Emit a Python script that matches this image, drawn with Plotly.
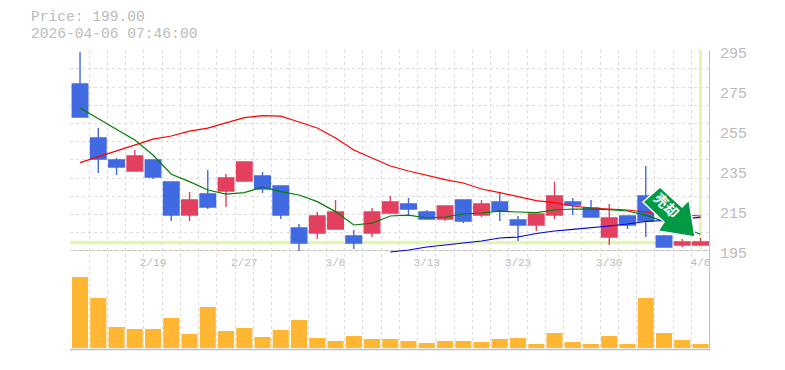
import plotly.graph_objects as go

dates = ["2/13","2/16","2/17","2/18","2/19","2/20","2/24","2/25","2/26","2/27",
         "3/2","3/3","3/4","3/5","3/6","3/9","3/10","3/11","3/12","3/13",
         "3/16","3/17","3/18","3/19","3/23","3/24","3/25","3/26","3/27","3/30",
         "3/31","4/1","4/2","4/3","4/6"]
opens = [279.5,252.5,241.5,236,241.5,230.5,214,224.5,226,231,233.5,228.5,207.5,205,207,
         203.5,205,215,219.5,215.5,212,221.5,214,220.5,211.5,209,214,220.5,217.5,203,
         213.5,223.5,203.5,199,199]
closes = [263,242,238,243.5,233,214,221.5,218,232.5,240.5,227,214,200,213.5,215.5,
          200,215.5,220.5,217,212,218.5,211,219.5,216,209,214.5,223.5,219,213,212.5,
          209,211,198,200.5,200.5]
highs = [295.5,257.5,242.5,246.5,241.5,230.5,225.5,236.5,234.5,240.5,235.5,228.5,209.5,215.5,221.5,
         206.5,217.5,223.5,222.5,216.5,218.5,221.5,221.5,225.5,213.5,214.5,230.5,222.5,221.5,219.5,
         213.5,238.5,204,202,202.5]
lows = [263,235,234,236,232,211,211,217,218,231,225,212,196,202,207,
        197,203,215,214,212,211,210,213,211,201,206,212,214,213,199,
        207,203,198,198,199]
ma_red = [240.2,243.2,246.2,248.9,251.9,253.5,255.9,257.4,259.9,262.7,263.7,263.4,260.5,257.5,252.5,
          246.5,242.5,238.5,236,233.7,231.7,230,227,225.2,223.2,221.2,220.2,218.5,217.5,217,
          216.5,215.5,214.5,214,213.5]
ma_green = [267.5,262.2,256.5,251.5,244,234.4,230.7,226.5,224.4,225.2,228,225.7,224,220.7,215.7,
            209,209.9,213.5,213.9,212.5,213,214.5,215,215.9,215.5,215.2,216.5,217,216.9,216.7,
            216,213.9,210.7,208,204.4]
ma_blue = [None]*17 + [195.5,196.5,198,199,200,201,202.5,203,204.75,206,206.85,207.5,208.5,209.5,
                       210.75,211.25,212,212.85]
volumes = [71,50,21,19,19,30,14,41,17,20,11,18,28,10,7,12,9,9,
           7,5,7,7,6,9,10,4,15,6,4,12,4,50,15,8,4]
price_ticks = [195,215,235,255,275,295]
date_tick_idx = [4,9,14,19,24,29,34]
last_price = "199.00"
stamp = "2026-04-06 07:46:00"
signal_text = "売却"

xs = list(range(len(dates)))
BLUE, RED, ORANGE = "#4169E1", "#E34060", "#FFB733"
GRID, AXIS, TXT, BAND = "#DDDDDD", "#C0C0C0", "#BBBBBB", "#E4F6B2"
FONT = "Liberation Mono"
OFF = 8  # page body margin
W, H = 785 - 2*OFF, 370 - 2*OFF
L, R, T, B = 70, 710, 50, 350
def px(x): return (x - L) / (R - L)
def py(y): return (B - y) / (B - T)
X_RANGE = [-0.55, 34.52]
Y_RANGE = [194.5, 296.5]
SPLIT = py(254)

fig = go.Figure()
fig.add_trace(go.Candlestick(
    x=xs, open=opens, high=highs, low=lows, close=closes, whiskerwidth=0,
    increasing=dict(line=dict(color=RED, width=1.4), fillcolor=RED),
    decreasing=dict(line=dict(color=BLUE, width=1.4), fillcolor=BLUE),
    xaxis="x", yaxis="y", showlegend=False))
for vals, col in ((ma_red, "#FF0000"), (ma_green, "#008000"), (ma_blue, "#0000E0")):
    fig.add_trace(go.Scatter(x=xs, y=vals, mode="lines", line=dict(color=col, width=1.2),
                             xaxis="x", yaxis="y", showlegend=False, connectgaps=False))
fig.add_trace(go.Bar(x=xs, y=volumes, marker=dict(color=ORANGE, line=dict(width=0)), width=0.88,
                     xaxis="x2", yaxis="y2", showlegend=False))

minor_x = dict(showgrid=True, gridcolor=GRID, griddash="3px 3px", gridwidth=1, tick0=-0.5, dtick=1, ticks="")
arrow = [(660,187),(643,202),(664,222),(658,231),(695,237),(689,200),(682,207)]
arrow_path = "M" + " L".join(f"{px(a):.4f},{py(b):.4f}" for a, b in arrow) + " Z"

fig.update_layout(
    width=W, height=H, autosize=False, paper_bgcolor="white", plot_bgcolor="white",
    margin=dict(l=L-OFF, r=W-(R-OFF), t=T-OFF, b=H-(B-OFF), pad=0, autoexpand=False), showlegend=False, boxgap=0.15, boxgroupgap=0,
    font=dict(family=FONT, color=TXT, size=15),
    xaxis=dict(domain=[0,1], range=X_RANGE, anchor="y", showgrid=False, zeroline=False, showline=False,
               rangeslider=dict(visible=False), tickmode="array", tickvals=date_tick_idx,
               ticktext=[dates[i] for i in date_tick_idx], tickfont=dict(size=11, color=TXT, family=FONT),
               ticks="", minor=minor_x),
    xaxis2=dict(domain=[0,1], range=X_RANGE, anchor="y2", showgrid=False, zeroline=False, showline=False,
                showticklabels=False, ticks="", minor=minor_x),
    yaxis=dict(domain=[SPLIT,1], range=Y_RANGE, side="right", anchor="x", zeroline=False, showline=False,
               showgrid=False, tickmode="array", tickvals=price_ticks, ticks="", ticklabelstandoff=9,
               tickfont=dict(size=15, color=TXT, family=FONT),
               minor=dict(showgrid=True, gridcolor=GRID, griddash="3px 3px", gridwidth=1, tick0=296.15, dtick=9.1, ticks="")),
    yaxis2=dict(domain=[0,SPLIT], range=[-2,94], anchor="x2", showgrid=False, zeroline=False, showline=False,
                showticklabels=False, ticks=""),
    shapes=[
        dict(type="line", xref="paper", yref="paper", x0=0, x1=1, y0=py(242.5), y1=py(242.5), line=dict(color=BAND, width=3.5), layer="below"),
        dict(type="line", xref="paper", yref="paper", x0=px(700.5), x1=px(700.5), y0=py(50), y1=py(249), line=dict(color=BAND, width=3), layer="below"),
        dict(type="line", xref="paper", yref="paper", x0=0, x1=1, y0=py(250.5), y1=py(250.5), line=dict(color=AXIS, width=1), layer="below"),
        dict(type="line", xref="paper", yref="paper", x0=0, x1=1, y0=py(349.5), y1=py(349.5), line=dict(color=AXIS, width=1.5), layer="above"),
        dict(type="line", xref="paper", yref="paper", x0=px(709.5), x1=px(709.5), y0=py(50), y1=py(350), line=dict(color=AXIS, width=1), layer="above"),
        dict(type="path", xref="paper", yref="paper", path=arrow_path, fillcolor="#009944",
             line=dict(color="white", width=1.5), layer="above"),
    ],
    annotations=[
        dict(xref="paper", yref="paper", x=px(29), y=py(17.5), text=f"Price: {last_price}", showarrow=False,
             xanchor="left", yanchor="middle", font=dict(size=14.6, color=TXT, family=FONT)),
        dict(xref="paper", yref="paper", x=px(29), y=py(33.5), text=stamp, showarrow=False,
             xanchor="left", yanchor="middle", font=dict(size=14.6, color=TXT, family=FONT)),
        dict(xref="paper", yref="paper", x=px(667), y=py(205), text=f"<b>{signal_text}</b>", showarrow=False, textangle=45,
             xanchor="center", yanchor="middle", font=dict(size=14, color="white", family="Noto Sans CJK JP")),
    ],
)
fig.write_html("out.html")
